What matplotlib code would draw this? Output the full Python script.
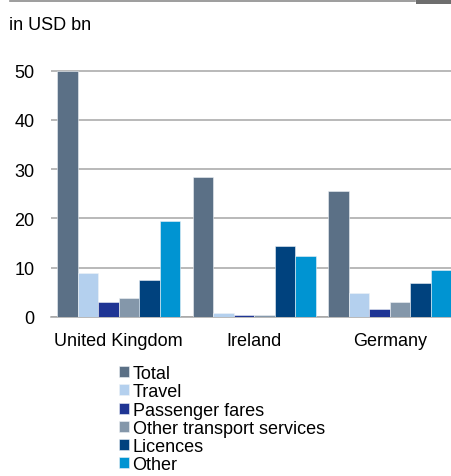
import numpy as np
import matplotlib.pyplot as plt
from matplotlib.lines import Line2D
from matplotlib.patches import Rectangle

plt.rcParams['font.family'] = ['Liberation Sans', 'DejaVu Sans']

countries = ['United Kingdom', 'Ireland', 'Germany']
series = ['Total', 'Travel', 'Passenger fares', 'Other transport services',
          'Licences', 'Other']
total = [50.0, 28.3, 25.5]
travel = [8.9, 0.8, 4.8]
passenger = [3.0, 0.3, 1.5]
other_transport = [3.9, 0.3, 2.9]
licences = [7.4, 14.3, 6.9]
other = [19.4, 12.4, 9.4]
colors = ['#5B7086', '#B4D0EE', '#1F3594', '#8497AA', '#00427E', '#0094D2']

values = [total, travel, passenger, other_transport, licences, other]

W, H = 451, 477
fig = plt.figure(figsize=(W / 100, H / 100), dpi=100)

# axes placed in pixel terms (right side runs past the figure edge like the source crop)
px_unit = 4.92
ymax = 51
left, bottom = 51, 317.7
width = 406.5
height = ymax * px_unit
ax = fig.add_axes([left / W, (H - bottom) / H, width / W, height / H])

x = np.arange(len(countries))
w = 20.5 / 135.5
for i, (name, vals, c) in enumerate(zip(series, values, colors)):
    ax.bar(x + (i - 2.5) * w, vals, width=w, color=c, label=name,
           edgecolor='#EEF2F6', linewidth=0.4, zorder=3)

fs = 13
ax.set_xlim(-0.5, 2.5)
ax.set_ylim(0, ymax)
ax.set_yticks([0, 10, 20, 30, 40, 50])
ax.set_xticks(x)
ax.set_xticklabels(countries)
ax.tick_params(axis='both', length=0, labelsize=fs)
ax.tick_params(axis='y', pad=12)
ax.tick_params(axis='x', pad=11)
ax.yaxis.grid(True, color='#A6A6A6', linewidth=1.1)
ax.set_axisbelow(True)
for s in ['top', 'right', 'left']:
    ax.spines[s].set_visible(False)
ax.spines['bottom'].set_color('#A6A6A6')
ax.spines['bottom'].set_linewidth(1.1)

fig.text(9 / W, 1 - 26 / H, 'in USD bn', fontsize=fs, va='center', ha='left')

# header rule and grey tab
fig.add_artist(Line2D([10 / W, 415 / W], [1 - 2 / H, 1 - 2 / H],
                      color='#8C8C8C', linewidth=1.2))
fig.add_artist(Rectangle((416 / W, 1 - 5 / H), 35 / W, 5 / H,
                         color='#6E6E6E', transform=fig.transFigure, lw=0))

fig.legend(loc='upper left', bbox_to_anchor=(119 / W, 1 - 366 / H),
           frameon=False, fontsize=fs, handlelength=0.55, handleheight=0.55,
           handletextpad=0.2, labelspacing=0.07, borderpad=0, borderaxespad=0)

fig.savefig('out.png', dpi=100)
